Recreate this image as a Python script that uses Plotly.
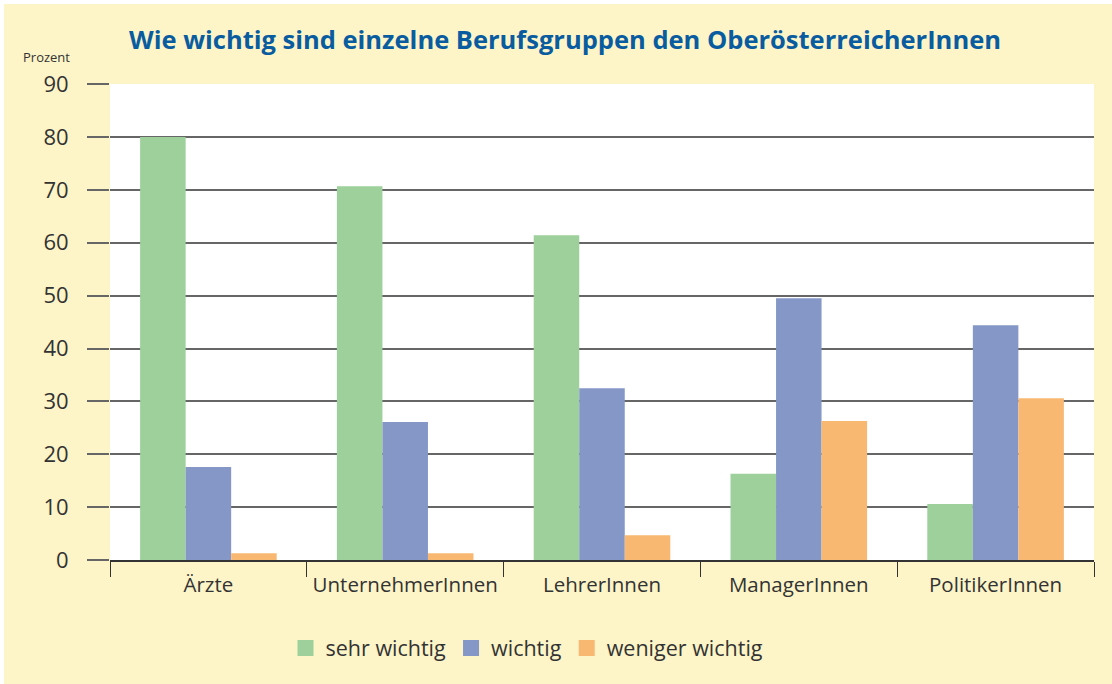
import plotly.graph_objects as go

categories = ["Ärzte", "UnternehmerInnen", "LehrerInnen", "ManagerInnen", "PolitikerInnen"]
sehr_wichtig = [80.0, 70.7, 61.4, 16.3, 10.6]
wichtig = [17.6, 26.1, 32.5, 49.5, 44.4]
weniger_wichtig = [1.3, 1.3, 4.7, 26.3, 30.6]
series_names = ["sehr wichtig", "wichtig", "weniger wichtig"]
y_ticks = [0, 10, 20, 30, 40, 50, 60, 70, 80, 90]

colors = ["#9DD09A", "#8497C7", "#F9B872"]
W, H = 1112, 684
L, R, T, B = 110, 18, 84, 124
pw, ph = W - L - R, H - T - B

fig = go.Figure()
for name, vals, c in zip(series_names, [sehr_wichtig, wichtig, weniger_wichtig], colors):
    fig.add_trace(go.Bar(x=categories, y=vals, name=name, showlegend=False,
                         legendgroup=name, marker=dict(color=c, line=dict(width=0))))
for name, c in zip(series_names, colors):
    fig.add_trace(go.Scatter(x=[None], y=[None], mode="markers", name=name, legendgroup=name,
                             marker=dict(symbol="square", size=16, color=c, line=dict(width=0))))

def px_x(p):
    return (p - L) / pw

def px_y(p):
    return (H - B - p) / ph

fig.update_layout(
    width=W, height=H,
    margin=dict(l=L, r=R, t=T, b=B, autoexpand=False),
    paper_bgcolor="#FDF5C8",
    plot_bgcolor="white",
    barmode="group",
    bargap=0.306,
    bargroupgap=0,
    font=dict(family="Open Sans", color="#333333"),
    title=dict(
        text="<b>Wie wichtig sind einzelne Berufsgruppen den OberösterreicherInnen</b>",
        x=565 / W, xref="container", xanchor="center",
        y=1 - 40 / H, yref="container", yanchor="middle",
        font=dict(size=25.5, color="#0A5CA0", family="Open Sans"),
    ),
    legend=dict(
        orientation="h", x=px_x(527), xanchor="center", y=px_y(648), yanchor="middle",
        font=dict(size=21.5, color="#333333"), bgcolor="rgba(0,0,0,0)",
        itemwidth=30, itemsizing="trace", traceorder="normal",
    ),
    xaxis=dict(
        type="category", tickson="boundaries", ticks="outside", ticklen=15,
        tickcolor="#333333", tickwidth=1.2, showline=True, linecolor="#333333", linewidth=1.5,
        tickfont=dict(size=20.5, color="#333333"), showgrid=False, fixedrange=True,
        tickangle=0, automargin=False, ticklabelstandoff=6,
    ),
    yaxis=dict(
        range=[0, 90.03], tickvals=y_ticks, ticktext=[str(v) for v in y_ticks],
        showgrid=True, gridcolor="#666666", gridwidth=1.5,
        ticks="outside", ticklen=22, tickcolor="#666666", tickwidth=1.5,
        tickfont=dict(size=22, color="#333333"), showline=False, zeroline=False,
        ticklabelstandoff=14, automargin=False, fixedrange=True,
    ),
    shapes=[
        dict(type="rect", xref="paper", yref="paper", layer="below",
             x0=px_x(-2), x1=px_x(4), y0=px_y(H + 2), y1=px_y(-2),
             fillcolor="white", line=dict(width=0)),
        dict(type="rect", xref="paper", yref="paper", layer="below",
             x0=px_x(-2), x1=px_x(W + 2), y0=px_y(4), y1=px_y(-2),
             fillcolor="white", line=dict(width=0)),
    ],
    annotations=[dict(
        text="Prozent", xref="paper", yref="paper", x=px_x(72), y=px_y(57),
        xanchor="right", yanchor="middle", showarrow=False,
        font=dict(size=13, color="#333333"),
    )],
)

fig.write_html(
    "out.html",
    config={"displayModeBar": False},
    post_script="document.body.style.margin='0';document.body.style.overflow='hidden';",
)
